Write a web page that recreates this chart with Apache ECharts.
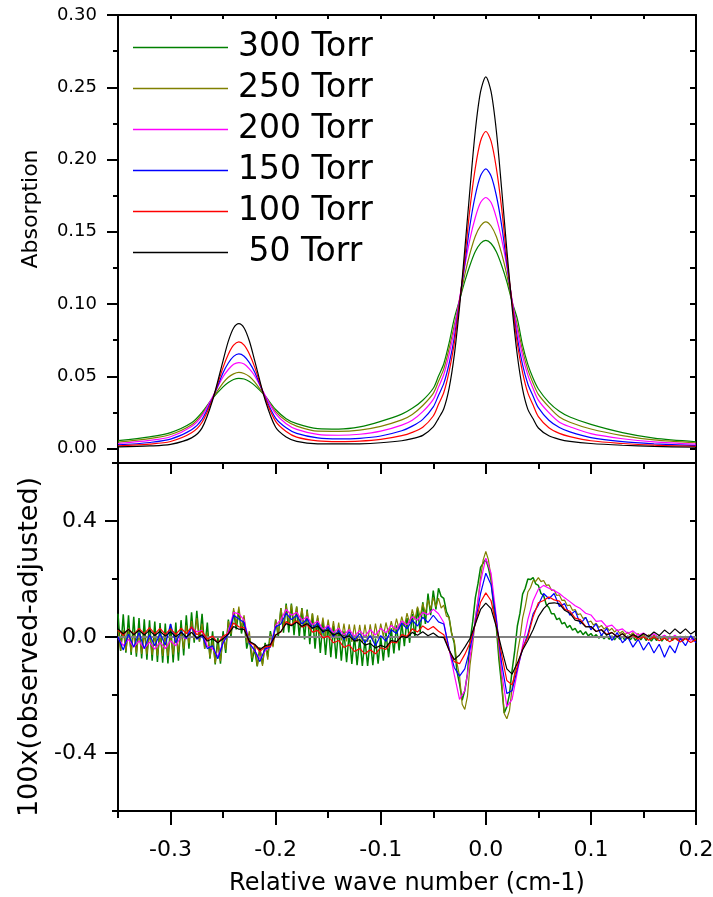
<!DOCTYPE html>
<html><head><meta charset="utf-8">
<script src="https://cdn.jsdelivr.net/npm/echarts@6/dist/echarts.min.js"></script>
<style>html,body{margin:0;padding:0;background:#fff}#c{width:713px;height:897px}</style>
</head><body><div id="c"></div>
<script>
const seriesNames = ['300 Torr','250 Torr','200 Torr','150 Torr','100 Torr','50 Torr'];
const seriesColors = ['#008000','#808000','#ff00ff','#0000ff','#ff0000','#000000'];

// ---- top panel: absorption ----
const absX = [-0.35,-0.32,-0.30,-0.28,-0.27,-0.26,-0.25,-0.245,-0.24,-0.235,-0.23,-0.225,-0.22,-0.21,-0.20,-0.19,-0.18,-0.16,-0.14,-0.12,-0.10,-0.08,-0.07,-0.06,-0.05,-0.045,-0.04,-0.035,-0.03,-0.025,-0.02,-0.015,-0.01,-0.005,0,0.005,0.01,0.015,0.02,0.025,0.03,0.035,0.04,0.045,0.05,0.06,0.07,0.08,0.10,0.13,0.16,0.20];
const abs300 = [.0055,.0081,.0110,.0178,.0251,.0348,.0427,.0457,.0478,.0486,.0481,.0464,.0437,.0364,.0270,.0207,.0172,.0138,.0135,.0150,.0188,.0238,.0278,.0334,.0417,.0502,.0587,.0729,.0901,.1028,.1157,.1270,.1363,.1420,.1441,.1419,.1361,.1268,.1154,.1015,.0897,.0715,.0582,.0486,.0412,.0320,.0258,.0218,.0167,.0110,.0072,.0047];
const abs250 = [.0045,.0069,.0097,.0165,.0239,.0348,.0454,.0493,.0517,.0527,.0519,.0498,.0461,.0361,.0255,.0192,.0155,.0120,.0119,.0128,.0154,.0198,.0236,.0298,.0382,.0466,.0551,.0691,.0853,.1025,.1204,.1352,.1469,.1541,.1569,.1540,.1467,.1350,.1201,.1014,.0849,.0679,.0546,.0452,.0375,.0288,.0218,.0182,.0135,.0090,.0060,.0040];
const abs200 = [.0035,.0056,.0082,.0152,.0228,.0358,.0497,.0547,.0583,.0595,.0585,.0551,.0504,.0369,.0241,.0172,.0133,.0098,.0092,.0099,.0120,.0162,.0196,.0255,.0340,.0425,.0512,.0649,.0822,.1037,.1262,.1453,.1599,.1702,.1737,.1702,.1598,.1451,.1260,.1029,.0818,.0640,.0508,.0415,.0335,.0248,.0182,.0151,.0103,.0068,.0046,.0030];
const abs150 = [.0025,.0042,.0065,.0130,.0203,.0348,.0525,.0592,.0638,.0655,.0639,.0595,.0529,.0355,.0211,.0144,.0105,.0074,.0067,.0071,.0087,.0123,.0155,.0202,.0288,.0369,.0451,.0585,.0768,.1019,.1280,.1550,.1752,.1887,.1935,.1886,.1751,.1548,.1278,.1013,.0766,.0579,.0447,.0362,.0283,.0196,.0145,.0115,.0076,.0048,.0033,.0020];
const abs100 = [.0019,.0031,.0049,.0109,.0182,.0343,.0562,.0653,.0715,.0738,.0716,.0655,.0565,.0348,.0188,.0118,.0079,.0053,.0048,.0051,.0063,.0089,.0112,.0148,.0225,.0306,.0388,.0531,.0728,.1011,.1318,.1668,.1942,.2128,.2194,.2127,.1941,.1667,.1317,.1007,.0725,.0526,.0385,.0301,.0221,.0144,.0105,.0083,.0054,.0035,.0023,.0015];
const abs50 = [.0012,.0018,.0029,.0074,.0143,.0334,.0609,.0743,.0834,.0864,.0834,.0744,.0610,.0336,.0147,.0080,.0050,.0033,.0032,.0033,.0040,.0054,.0069,.0091,.0150,.0209,.0275,.0414,.0646,.0980,.1378,.1802,.2199,.2469,.2572,.2469,.2199,.1801,.1376,.0977,.0644,.0411,.0271,.0206,.0142,.0088,.0064,.0050,.0035,.0023,.0015,.0009];

// ---- bottom panel: residuals (sampling grids) ----
const resFineStart = -0.35, resFineStep = 0.0025;    // 300 and 250 Torr
const resCoarseStart = -0.35, resCoarseStep = 0.005; // 200, 150, 100, 50 Torr
const res300 = [.080,-.048,.078,-.054,.075,-.062,.070,-.068,.065,-.074,
 .061,-.078,.058,-.082,.053,-.086,.048,-.089,.046,-.091,
 .045,-.088,.050,-.082,.058,-.064,.075,-.040,.085,-.020,
 .090,-.016,.080,-.040,.050,-.075,.020,-.095,.000,-.092,
 .020,-.055,.060,.000,.090,.026,.092,.012,.060,-.040,
 .000,-.086,-.040,-.101,-.040,-.094,-.020,-.068,.020,-.030,
 .060,.000,.100,.015,.115,.016,.115,.006,.105,.000,
 .100,-.008,.095,-.025,.080,-.040,.065,-.055,.055,-.062,
 .045,-.070,.038,-.075,.030,-.082,.020,-.087,.012,-.093,
 .003,-.097,-.005,-.100,-.008,-.100,-.010,-.097,-.005,-.092,
 .000,-.082,.015,-.070,.030,-.057,.040,-.046,.050,-.032,
 .065,-.020,.080,.000,.100,.015,.120,.045,.150,.075,
 .160,.095,.168,.140,.133,.088,.068,.012,-.022,-.118,
 -.162,-.218,-.185,-.128,-.015,.052,.135,.183,.240,.255,
 .268,.238,.195,.103,.035,-.078,-.165,-.262,-.240,-.198,
 -.115,-.048,.038,.082,.148,.168,.200,.198,.205,.183,
 .178,.150,.143,.112,.102,.080,.080,.060,.065,.045,
 .050,.032,.040,.024,.030,.014,.022,.008,.018,.004,
 .012,.000,.008,-.004,.006,-.006,.004,-.008,.004,-.010,
 .004,-.008,.002,-.012,.004,-.010,.002,-.012,.003,-.010,
 .004,-.012,.002,-.014,.000,-.012,.002,-.014,.000,-.012,
 .002,-.012,.000,-.010,.002,-.012,.000,-.010,.002,-.012,
 .000];
const res250 = [.025,-.046,.023,-.049,.020,-.052,.016,-.056,.013,-.058,
 .011,-.060,.010,-.062,.007,-.064,.005,-.065,.005,-.065,
 .005,-.061,.013,-.053,.020,-.040,.040,-.022,.055,-.009,
 .065,-.015,.045,-.040,.015,-.070,-.015,-.090,-.025,-.083,
 .000,-.043,.055,.010,.100,.045,.105,.033,.075,-.020,
 .020,-.073,-.025,-.100,-.035,-.100,-.025,-.078,.010,-.035,
 .060,.010,.100,.038,.110,.050,.112,.048,.105,.041,
 .098,.034,.090,.026,.082,.019,.075,.011,.067,.004,
 .060,-.003,.055,-.008,.050,-.012,.046,-.015,.044,-.017,
 .043,-.018,.042,-.018,.043,-.017,.044,-.014,.046,-.006,
 .046,.002,.050,.011,.055,.019,.063,.026,.070,.036,
 .082,.048,.095,.060,.105,.070,.115,.082,.128,.097,
 .136,.104,.134,.100,.110,.072,.068,.012,-.014,-.088,
 -.135,-.232,-.250,-.205,-.095,-.025,.065,.125,.205,.266,
 .295,.266,.204,.120,.054,-.055,-.146,-.264,-.282,-.254,
 -.176,-.124,-.056,-.005,.065,.105,.155,.170,.195,.192,
 .205,.191,.195,.178,.180,.161,.162,.143,.145,.126,
 .127,.108,.110,.092,.095,.077,.080,.064,.067,.051,
 .055,.041,.047,.033,.040,.027,.035,.022,.030,.017,
 .025,.012,.020,.008,.017,.006,.015,.003,.012,.001,
 .010,-.001,.008,-.003,.007,-.004,.005,-.005,.005,-.004,
 .004,-.006,.004,-.006,.003,-.007,.003,-.007,.002,-.008,
 .002];
const res200 = [-.003,-.030,-.008,-.035,-.013,-.040,-.018,-.042,-.018,-.040,
 -.013,-.030,.002,-.007,.032,.018,.022,-.032,-.040,-.067,
 -.020,.020,.085,.080,.058,-.020,-.048,-.075,-.048,-.030,
 .040,.060,.095,.075,.085,.058,.070,.042,.055,.027,
 .040,.015,.030,.007,.025,.003,.022,.003,.025,.007,
 .030,.015,.040,.027,.055,.042,.070,.058,.085,.077,
 .096,.080,.050,-.040,-.130,-.215,-.185,-.070,.060,.190,
 .272,.220,.070,-.120,-.240,-.215,-.120,-.030,.060,.125,
 .165,.178,.168,.160,.150,.135,.122,.108,.098,.082,
 .076,.054,.056,.036,.041,.022,.028,.012,.021,.006,
 .014,.000,.011,-.003,.006,-.006,.006,-.009,.001,-.011,
 .001];
const res150 = [.000,-.045,.010,-.035,.015,-.040,.008,-.030,.012,-.028,
 .045,-.020,.020,-.005,.035,-.008,.005,-.040,-.030,-.075,
 -.020,.010,.075,.062,.050,-.022,-.045,-.085,-.040,-.035,
 .035,.045,.082,.060,.075,.045,.062,.030,.048,.015,
 .035,.002,.022,-.008,.018,-.012,.012,-.020,.005,-.030,
 .005,-.015,.025,.012,.048,.028,.058,.038,.068,.050,
 .075,.052,.045,-.040,-.105,-.135,-.110,-.040,.050,.150,
 .220,.180,.060,-.090,-.195,-.185,-.110,-.040,.010,.080,
 .110,.150,.132,.150,.105,.115,.075,.090,.045,.068,
 .025,.045,.005,.030,-.012,.015,-.020,.000,-.035,-.008,
 -.045,-.018,-.055,-.025,-.070,-.030,-.055,-.005,-.030,.005,
 -.020];
const res100 = [.025,.006,.028,.009,.030,.011,.032,.011,.030,.009,
 .028,.009,.030,.012,.035,.008,.020,-.008,.003,-.020,
 .003,.012,.048,.035,.032,-.018,-.028,-.050,-.033,-.033,
 .008,.017,.053,.042,.056,.034,.043,.017,.023,-.003,
 .003,-.020,-.012,-.036,-.027,-.050,-.040,-.058,-.044,-.058,
 -.037,-.043,-.017,-.020,.008,.002,.028,.017,.038,.025,
 .036,.020,.008,-.045,-.085,-.092,-.060,-.020,.045,.120,
 .152,.125,.040,-.060,-.150,-.165,-.100,-.040,.000,.070,
 .118,.126,.138,.128,.124,.096,.089,.065,.060,.037,
 .036,.019,.026,.009,.016,.001,.011,-.004,.006,-.008,
 .001,-.011,.001,-.013,-.004,-.016,-.004,-.017,-.006,-.019,
 -.009];
const res50 = [.028,.011,.026,.008,.023,.007,.023,.005,.020,.003,
 .018,.001,.016,.000,.016,-.004,.008,-.014,-.006,-.020,
 -.006,.010,.036,.027,.026,-.015,-.025,-.043,-.030,-.026,
 .006,.019,.046,.039,.051,.037,.046,.030,.038,.019,
 .024,.007,.014,-.003,.004,-.014,-.009,-.028,-.022,-.038,
 -.029,-.036,-.012,-.016,.002,-.002,.016,.006,.018,.004,
 .014,.000,-.002,-.045,-.078,-.062,-.035,-.005,.045,.095,
 .117,.098,.035,-.040,-.110,-.128,-.090,-.045,-.012,.025,
 .070,.098,.116,.118,.114,.092,.082,.058,.054,.035,
 .036,.019,.025,.007,.015,.000,.011,-.004,.009,-.002,
 .012,.002,.017,.005,.024,.010,.028,.012,.028,.010,
 .022];

// ---- ticks ----
const xMajorTicks = [-0.3,-0.2,-0.1,0,0.1,0.2];
const xMinorTicks = [-0.35,-0.25,-0.15,-0.05,0.05,0.15];
const absTickLabels = [0,0.05,0.10,0.15,0.20,0.25,0.30];
const absMinorTicks = [0.025,0.075,0.125,0.175,0.225,0.275];
const resTickLabels = [-0.4,0,0.4];
const resMinorTicks = [-0.6,-0.2,0.2,0.6];
const resRightTicks = [-0.6,-0.4,-0.2,0,0.2,0.4,0.6];

const FONT = 'DejaVu Sans';
function pairs(xs, ys){ return ys.map((y,i)=>[xs[i], y]); }
function gridPairs(start, step, ys){ return ys.map((y,i)=>[+(start + i*step).toFixed(4), y]); }

const line2 = {show:true, onZero:false, lineStyle:{color:'#000', width:2}};
const noLine = {show:false, onZero:false};
const tk = (vals, len, inside) => ({show:true, customValues:vals, length:len, inside:!!inside, lineStyle:{color:'#000', width:2}});
const noLabel = {show:false};
const noSplit = {show:false};

const absData = [abs300, abs250, abs200, abs150, abs100, abs50];
const series = [];
absData.forEach((arr, k) => {
  series.push({
    name: seriesNames[k], type:'line', xAxisIndex:0, yAxisIndex:0,
    data: pairs(absX, arr), smooth:0.3, symbol:'none',
    lineStyle:{color:seriesColors[k], width:1.2}, itemStyle:{color:seriesColors[k]}, z:2+k
  });
});
const resData = [
  gridPairs(resFineStart, resFineStep, res300),
  gridPairs(resFineStart, resFineStep, res250),
  gridPairs(resCoarseStart, resCoarseStep, res200),
  gridPairs(resCoarseStart, resCoarseStep, res150),
  gridPairs(resCoarseStart, resCoarseStep, res100),
  gridPairs(resCoarseStart, resCoarseStep, res50)
];
resData.forEach((d, k) => {
  const s = {
    name: seriesNames[k], type:'line', xAxisIndex:3, yAxisIndex:3,
    data: d, symbol:'none', lineStyle:{color:seriesColors[k], width:k === 0 ? 1.5 : 1.2},
    itemStyle:{color:seriesColors[k]}, z:2+k
  };
  if (k === 5) {
    s.markLine = {silent:true, symbol:['none','none'], label:{show:false},
      lineStyle:{color:'#808080', width:2, type:'solid'}, data:[{yAxis:0}], animation:false};
  }
  series.push(s);
});

const chart = echarts.init(document.getElementById('c'), null, {renderer:'canvas'});
chart.setOption({
  animation:false,
  backgroundColor:'#fff',
  textStyle:{fontFamily:FONT, color:'#000'},
  grid:[
    {left:118, top:15, width:578, height:448, outerBoundsMode:'none'},
    {left:118, top:463, width:578, height:348, outerBoundsMode:'none'}
  ],
  legend:{
    data: seriesNames, orient:'vertical', left:133, top:31, padding:0,
    icon:'rect', itemWidth:95, itemHeight:1.4, itemGap:8,
    formatter: n => n === '50 Torr' ? ' 50 Torr' : n,
    textStyle:{fontFamily:FONT, fontSize:33, lineHeight:33, color:'#000', padding:[0,0,0,5]},
    selectedMode:false
  },
  xAxis:[
    {gridIndex:0, type:'value', min:-0.35, max:0.2, position:'bottom', axisLine:line2, axisTick:tk(xMajorTicks, 11), axisLabel:noLabel, splitLine:noSplit},
    {gridIndex:0, type:'value', min:-0.35, max:0.2, position:'bottom', axisLine:noLine, axisTick:tk(xMinorTicks, 6), axisLabel:noLabel, splitLine:noSplit},
    {gridIndex:0, type:'value', min:-0.35, max:0.2, position:'top', axisLine:line2, axisTick:tk(xMajorTicks.concat(xMinorTicks), 4, true), axisLabel:noLabel, splitLine:noSplit},
    {gridIndex:1, type:'value', min:-0.35, max:0.2, position:'bottom', axisLine:line2, axisTick:tk(xMajorTicks, 14),
      axisLabel:{customValues:xMajorTicks, formatter:v=>v.toFixed(1), fontSize:22, margin:28, color:'#000', fontFamily:FONT},
      splitLine:noSplit, name:'Relative wave number (cm-1)', nameLocation:'middle', nameGap:61,
      nameTextStyle:{fontSize:24, color:'#000', fontFamily:FONT}},
    {gridIndex:1, type:'value', min:-0.35, max:0.2, position:'bottom', axisLine:noLine, axisTick:tk(xMinorTicks, 7), axisLabel:noLabel, splitLine:noSplit}
  ],
  yAxis:[
    {gridIndex:0, type:'value', min:-0.01, max:0.30, position:'left', axisLine:line2, axisTick:tk(absTickLabels, 11),
      axisLabel:{customValues:absTickLabels, formatter:v=>v.toFixed(2), fontSize:18, margin:21, color:'#000', fontFamily:FONT},
      splitLine:noSplit, name:'Absorption', nameLocation:'middle', nameGap:76,
      nameTextStyle:{fontSize:22, color:'#000', fontFamily:FONT, padding:[0,0,0,60]}},
    {gridIndex:0, type:'value', min:-0.01, max:0.30, position:'left', axisLine:noLine, axisTick:tk(absMinorTicks, 5), axisLabel:noLabel, splitLine:noSplit},
    {gridIndex:0, type:'value', min:-0.01, max:0.30, position:'right', axisLine:line2, axisTick:tk(absTickLabels.concat(absMinorTicks), 6, true), axisLabel:noLabel, splitLine:noSplit},
    {gridIndex:1, type:'value', min:-0.6, max:0.6, position:'left', axisLine:line2, axisTick:tk(resTickLabels, 13),
      axisLabel:{customValues:resTickLabels, formatter:v=>v.toFixed(1), fontSize:22, margin:21, color:'#000', fontFamily:FONT},
      splitLine:noSplit, name:'100x(observed-adjusted)', nameLocation:'middle', nameGap:64,
      nameTextStyle:{fontSize:27, color:'#000', fontFamily:FONT, padding:[0,20,0,0]}},
    {gridIndex:1, type:'value', min:-0.6, max:0.6, position:'left', axisLine:noLine, axisTick:tk(resMinorTicks, 6), axisLabel:noLabel, splitLine:noSplit},
    {gridIndex:1, type:'value', min:-0.6, max:0.6, position:'right', axisLine:line2, axisTick:tk(resRightTicks, 6, true), axisLabel:noLabel, splitLine:noSplit}
  ],
  series: series
});
</script></body></html>
